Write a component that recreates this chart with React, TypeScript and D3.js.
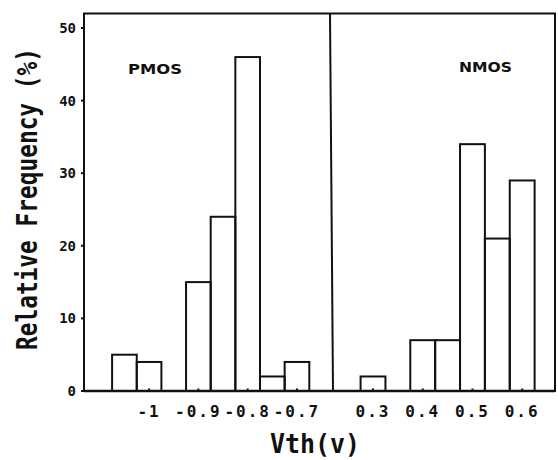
import React from 'react'
import * as d3 from 'd3'

// histogram of threshold voltage, bins 0.05 V wide
const pmosBins = [-1.05, -1.0, -0.95, -0.9, -0.85, -0.8, -0.75, -0.7]
const pmosFreq = [5, 4, 0, 15, 24, 46, 2, 4]
const nmosBins = [0.3, 0.35, 0.4, 0.45, 0.5, 0.55, 0.6]
const nmosFreq = [2, 0, 7, 7, 34, 21, 29]

const pmosTicks = [-1, -0.9, -0.8, -0.7]
const pmosTickLabels = ['-1', '-0.9', '-0.8', '-0.7']
const nmosTicks = [0.3, 0.4, 0.5, 0.6]
const nmosTickLabels = ['0.3', '0.4', '0.5', '0.6']
const yTicks = [0, 10, 20, 30, 40, 50]

const W = 558
const H = 460
const left = 84
const split = 330
const right = 555
const top = 13.5
const bottom = 391
const binW = 0.05

const font = '"DejaVu Sans Mono", monospace'

export default function App() {
  const y = d3.scaleLinear().domain([0, 52]).range([bottom, top])
  const xP = d3.scaleLinear().domain([-1.132, -0.633]).range([left, split])
  const xN = d3.scaleLinear().domain([0.2135, 0.666]).range([split, right])

  const bars = (bins: number[], vals: number[], x: d3.ScaleLinear<number, number>, key: string) =>
    bins.map((b, i) =>
      vals[i] > 0 ? (
        <rect
          key={key + i}
          x={x(b - binW / 2)}
          y={y(vals[i])}
          width={x(b + binW / 2) - x(b - binW / 2)}
          height={y(0) - y(vals[i])}
          fill="none"
          stroke="#111"
          strokeWidth={2}
        />
      ) : null
    )

  const xTicks = (ticks: number[], labels: string[], x: d3.ScaleLinear<number, number>, key: string) =>
    ticks.map((t, i) => (
      <g key={key + i}>
        <line x1={x(t)} x2={x(t)} y1={bottom} y2={bottom - 2.5} stroke="#111" strokeWidth={2} />
        <text
          x={x(t)}
          y={417}
          textAnchor="middle"
          fontFamily={font}
          fontWeight="bold"
          fontSize={16}
          letterSpacing={2}
          fill="#111"
        >
          {labels[i]}
        </text>
      </g>
    ))

  return (
    <svg width={W} height={H} style={{ position: 'absolute', left: 0, top: 0, background: '#fff' }}>
      <rect x={0} y={0} width={W} height={H} fill="#fff" />
      {bars(pmosBins, pmosFreq, xP, 'p')}
      {bars(nmosBins, nmosFreq, xN, 'n')}

      {/* frame */}
      <rect x={left} y={top} width={right - left} height={bottom - top} fill="none" stroke="#111" strokeWidth={2} />
      <line x1={split} x2={split + 3} y1={top} y2={bottom} stroke="#111" strokeWidth={2} />
      <line x1={left} x2={right} y1={bottom} y2={bottom} stroke="#111" strokeWidth={2.5} />

      {yTicks.map(t => (
        <g key={'y' + t}>
          <line x1={left - 3} x2={left} y1={y(t)} y2={y(t)} stroke="#111" strokeWidth={2} />
          <text
            x={76}
            y={y(t)}
            dy="0.35em"
            textAnchor="end"
            fontFamily={font}
            fontWeight="bold"
            fontSize={14}
            fill="#111"
          >
            {t}
          </text>
        </g>
      ))}

      {xTicks(pmosTicks, pmosTickLabels, xP, 'pt')}
      {xTicks(nmosTicks, nmosTickLabels, xN, 'nt')}

      <text x={128} y={74} fontFamily="'DejaVu Sans', sans-serif" fontWeight="bold" fontSize={14}
        textLength={54} lengthAdjust="spacingAndGlyphs" fill="#111">PMOS</text>
      <text x={459} y={72} fontFamily="'DejaVu Sans', sans-serif" fontWeight="bold" fontSize={14}
        textLength={53} lengthAdjust="spacingAndGlyphs" fill="#111">NMOS</text>

      <text x={270} y={453} fontFamily={font} fontWeight="bold" fontSize={27}
        textLength={90} lengthAdjust="spacingAndGlyphs" fill="#111">Vth(v)</text>

      <text
        transform="translate(37,350) rotate(-90)"
        x={0}
        y={0}
        fontFamily={font}
        fontWeight="bold"
        fontSize={28}
        textLength={302}
        lengthAdjust="spacingAndGlyphs"
        fill="#111"
      >
        Relative Frequency (%)
      </text>
    </svg>
  )
}
